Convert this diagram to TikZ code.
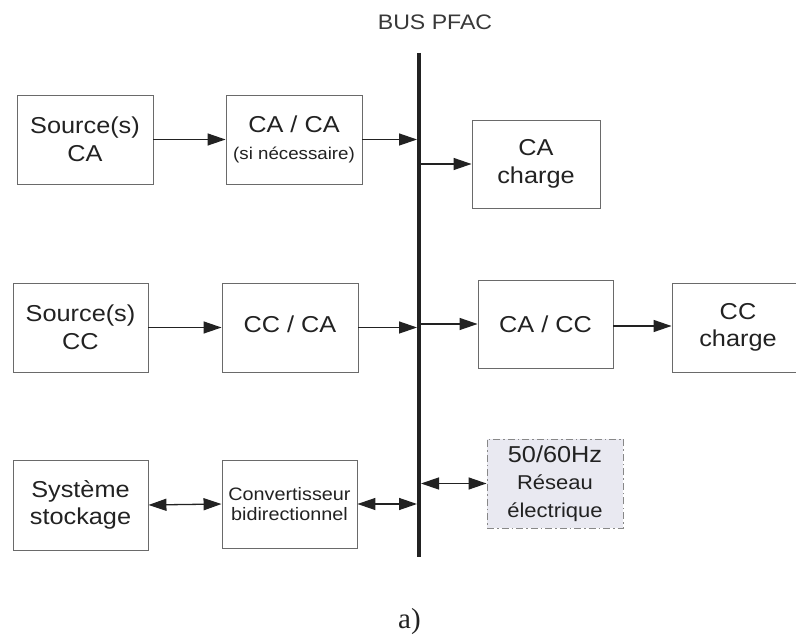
\documentclass[tikz,border=0pt]{standalone}
\usepackage{fontspec}
\newfontfamily\boxfont{Liberation Sans}[FakeStretch=1.1]
\newfontfamily\capfont{Liberation Serif}
\usetikzlibrary{arrows.meta}
\definecolor{ink}{HTML}{222222}
\definecolor{frame}{HTML}{6A6A6A}
\definecolor{gridfill}{HTML}{E9E9F1}
\begin{document}
\begin{tikzpicture}[x=1pt,y=-1pt,
  blk/.style={draw=frame, line width=0.9pt, fill=white, inner sep=0pt,
    minimum width=136pt, minimum height=89pt, align=center, text=ink,
    font=\boxfont\fontsize{23}{27.6}\selectfont},
  gridbox/.style={blk, fill=gridfill, draw=frame!80,
    dash pattern=on 7pt off 3pt on 1.5pt off 3pt},
  tip/.tip={Triangle[length=18pt,width=12pt]},
  flow/.style={draw=ink, line width=1.3pt, -tip},
  both/.style={draw=ink, line width=1.3pt, tip-tip},
  busline/.style={draw=ink, line width=3.5pt}]
\useasboundingbox (0,0) rectangle (796,636);
\fill[white] (0,0) rectangle (796,636);

% bus
\coordinate (busT) at (419,53);
\coordinate (busB) at (419,557);
\coordinate (busL) at (417,0);
\draw[busline] (busT) -- (busB);
\node[anchor=base, text=ink!90, font=\boxfont\fontsize{21}{24}\selectfont] (buslabel) at (435,30) {BUS PFAC};

% AC row
\node[blk] (srcCA) at (85,139.5) {Source(s)\\CA};
\node[blk] (caca) at (294,139.5) {CA / CA\\{\fontsize{17}{20}\selectfont (si nécessaire)}};
\node[blk, minimum width=128pt, minimum height=88pt] (chargeCA) at (536,164) {CA\\charge};

% DC row
\node[blk, minimum width=135pt] (srcCC) at (80.5,327.5) {Source(s)\\CC};
\node[blk] (ccca) at (290,327.5) {\raisebox{7pt}{CC / CA}};
\node[blk, minimum width=135pt, minimum height=88pt] (cacc) at (545.5,324) {CA / CC};
\node[blk, minimum width=132pt] (chargeCC) at (738,327.5) {CC\\charge};

% storage row
\node[blk, minimum width=135pt, minimum height=90pt] (stock) at (80.5,505) {Système\\stockage};
\node[blk, minimum width=135pt, minimum height=88pt, font=\boxfont\fontsize{18}{20.5}\selectfont] (conv) at (289.5,504) {Convertisseur\\bidirectionnel};
\node[gridbox] (grid) at (555,483.5) {\fontsize{23}{24}\selectfont 50/60Hz\\\fontsize{20}{24}\selectfont Réseau\\\fontsize{20}{24}\selectfont électrique};

% connections
\draw[flow] (srcCA.east) -- (caca.west);
\draw[flow] (caca.east) -- (caca.east -| busL);
\draw[flow] (chargeCA.west -| busT) -- (chargeCA.west);

\draw[flow] (srcCC.east) -- (ccca.west);
\draw[flow] (ccca.east) -- (ccca.east -| busL);
\draw[flow] (cacc.west -| busT) -- (cacc.west);
\draw[flow] ([yshift=-2pt]cacc.east) -- ([yshift=-2pt]cacc.east -| chargeCC.west);

\draw[both] (stock.east) -- (conv.west);
\draw[both] (conv.east) -- (conv.east -| busL);
\draw[both] ([xshift=2pt]grid.west -| busT) -- (grid.west);

\node[font=\capfont\fontsize{29}{32}\selectfont, text=ink] (caption) at (409.5,622) {a)};
\end{tikzpicture}
\end{document}
